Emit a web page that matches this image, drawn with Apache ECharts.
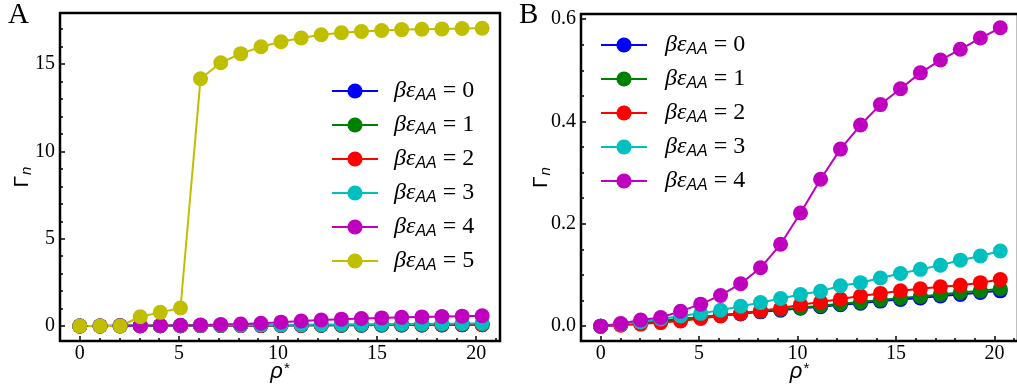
<!DOCTYPE html>
<html>
<head>
<meta charset="utf-8">
<script src="https://cdn.jsdelivr.net/npm/echarts@6/dist/echarts.min.js"></script>
<style>
  html, body { margin: 0; padding: 0; background: #fff; }
  #chart { width: 1017px; height: 390px; }
</style>
</head>
<body>
<div id="chart"></div>
<script>
// rho* values (x), same for every curve
var rho = [0, 1.02, 2.03, 3.05, 4.06, 5.08, 6.09, 7.11, 8.12, 9.14, 10.15,
           11.17, 12.18, 13.2, 14.21, 15.23, 16.24, 17.26, 18.27, 19.29, 20.3];

// Gamma_n for each beta*eps_AA
var g0 = [0, 0.003, 0.007, 0.010, 0.014, 0.017, 0.021, 0.024, 0.028, 0.031, 0.035,
          0.038, 0.042, 0.045, 0.049, 0.052, 0.055, 0.059, 0.062, 0.066, 0.069];
var g1 = [0, 0.0035, 0.007, 0.011, 0.014, 0.018, 0.022, 0.025, 0.029, 0.033, 0.036,
          0.040, 0.044, 0.047, 0.051, 0.055, 0.058, 0.062, 0.066, 0.069, 0.073];
var g2 = [0, 0.002, 0.004, 0.007, 0.010, 0.015, 0.020, 0.025, 0.030, 0.035, 0.042,
          0.047, 0.053, 0.059, 0.064, 0.069, 0.073, 0.077, 0.080, 0.085, 0.091];
var g3 = [0, 0.004, 0.008, 0.014, 0.020, 0.025, 0.031, 0.039, 0.046, 0.054, 0.062,
          0.068, 0.079, 0.085, 0.094, 0.103, 0.111, 0.119, 0.129, 0.137, 0.147];
var g4 = [0, 0.005, 0.012, 0.017, 0.029, 0.043, 0.060, 0.083, 0.114, 0.160, 0.221,
          0.287, 0.346, 0.393, 0.433, 0.464, 0.495, 0.520, 0.541, 0.563, 0.583];
var g5 = [0, 0, 0, 0.53, 0.78, 1.03, 14.16, 15.08, 15.6, 16.0, 16.28,
          16.5, 16.68, 16.8, 16.87, 16.93, 16.98, 17.0, 17.02, 17.04, 17.06];

var eps = ['0', '1', '2', '3', '4', '5'];
var colors = ['#0000ff', '#008000', '#ff0000', '#00bfbf', '#bf00bf', '#bfbf00'];

// tick labels
var xTicks = [0, 5, 10, 15, 20];
var xMinor = [0, 1, 2, 3, 4, 5, 6, 7, 8, 9, 10, 11, 12, 13, 14, 15, 16, 17, 18, 19, 20, 21];
var yTicksA = [0, 5, 10, 15];
var yMinorA = [0, 1, 2, 3, 4, 5, 6, 7, 8, 9, 10, 11, 12, 13, 14, 15, 16, 17];
var yTicksB = [0, 0.2, 0.4, 0.6];
var yMinorB = [0, 0.05, 0.1, 0.15, 0.2, 0.25, 0.3, 0.35, 0.4, 0.45, 0.5, 0.55, 0.6];

var serif = 'Liberation Serif';
var sans = 'Liberation Sans';

function pairs(vals) {
    return vals.map(function (v, i) { return [rho[i], v]; });
}

var names = eps.map(function (e) { return 'βεAA = ' + e; });

var legendRich = {
    g: { fontFamily: serif, fontStyle: 'italic', fontSize: 24, lineHeight: 24, color: '#000' },
    s: { fontFamily: sans, fontStyle: 'italic', fontSize: 16, lineHeight: 16, padding: [10, 0, 0, 0], color: '#000' },
    e: { fontFamily: serif, fontSize: 24, lineHeight: 24, color: '#000' }
};

function legendFmt(name) {
    return '{g|βε}{s|AA}{e| = ' + name.split('= ')[1] + '}';
}

var tickStyle = { color: '#000', width: 1.5 };

function mainX(grid) {
    return {
        type: 'value', gridIndex: grid, min: -1, max: 21.2, position: 'bottom',
        axisLine: { show: false, onZero: false },
        splitLine: { show: false },
        axisTick: { inside: true, length: 5, customValues: xTicks, lineStyle: tickStyle },
        axisLabel: { customValues: xTicks, margin: 3, color: '#000', fontFamily: serif, fontSize: 20 },
        name: '{r|ρ}{a|*}', nameLocation: 'middle', nameGap: 20, nameMoveOverlap: false,
        nameTextStyle: {
            rich: {
                r: { fontFamily: sans, fontStyle: 'italic', fontSize: 22, lineHeight: 22, verticalAlign: 'bottom', color: '#000' },
                a: { fontFamily: sans, fontSize: 15, lineHeight: 15, verticalAlign: 'top', padding: [0, 0, 18, 1], color: '#000' }
            }
        }
    };
}

function minorX(grid) {
    return {
        type: 'value', gridIndex: grid, min: -1, max: 21.2, position: 'bottom', offset: 0,
        axisLine: { show: false, onZero: false }, splitLine: { show: false },
        axisTick: { inside: true, length: 3, customValues: xMinor, lineStyle: tickStyle },
        axisLabel: { show: false }
    };
}

function mainY(grid, min, max, ticks, fmt, gap) {
    return {
        type: 'value', gridIndex: grid, min: min, max: max, position: 'left',
        axisLine: { show: false, onZero: false },
        splitLine: { show: false },
        axisTick: { inside: true, length: 5, customValues: ticks, lineStyle: tickStyle },
        axisLabel: { customValues: ticks, margin: 5, color: '#000', fontFamily: serif, fontSize: 20, formatter: fmt },
        name: '{G|Γ}{n|n}', nameLocation: 'middle', nameGap: gap, nameRotate: 90, nameMoveOverlap: false,
        nameTextStyle: {
            rich: {
                G: { fontFamily: sans, fontSize: 21, lineHeight: 24, color: '#000' },
                n: { fontFamily: sans, fontStyle: 'italic', fontSize: 15, lineHeight: 15, padding: [9, 0, 0, 1], color: '#000' }
            }
        }
    };
}

function minorY(grid, min, max, ticks) {
    return {
        type: 'value', gridIndex: grid, min: min, max: max, position: 'left', offset: 0,
        axisLine: { show: false, onZero: false }, splitLine: { show: false },
        axisTick: { inside: true, length: 3, customValues: ticks, lineStyle: tickStyle },
        axisLabel: { show: false }
    };
}

var dataA = [g0, g1, g2, g3, g4, g5];
var dataB = [g0, g1, g2, g3, g4];

var series = [];
dataA.forEach(function (d, i) {
    series.push({
        name: names[i], type: 'line', xAxisIndex: 0, yAxisIndex: 0,
        data: pairs(d), symbol: 'circle', symbolSize: 15, showSymbol: true,
        lineStyle: { color: colors[i], width: 2 }, itemStyle: { color: colors[i] },
        animation: false
    });
});
dataB.forEach(function (d, i) {
    series.push({
        name: names[i], type: 'line', xAxisIndex: 2, yAxisIndex: 2,
        data: pairs(d), symbol: 'circle', symbolSize: 15, showSymbol: true,
        lineStyle: { color: colors[i], width: 2 }, itemStyle: { color: colors[i] },
        animation: false
    });
});

var chart = echarts.init(document.getElementById('chart'));
chart.setOption({
    backgroundColor: '#fff',
    animation: false,
    grid: [
        { left: 60, top: 13, width: 440, height: 328, show: true, borderColor: '#000', borderWidth: 2.5, outerBoundsMode: 'none' },
        { left: 581, top: 14, width: 437, height: 327, show: true, borderColor: '#000', borderWidth: 2.5, outerBoundsMode: 'none' }
    ],
    xAxis: [mainX(0), minorX(0), mainX(1), minorX(1)],
    yAxis: [
        mainY(0, -0.86, 17.93, yTicksA, null, 26),
        minorY(0, -0.86, 17.93, yMinorA),
        mainY(1, -0.029, 0.61, yTicksB, function (v) { return v.toFixed(1); }, 28),
        minorY(1, -0.029, 0.61, yMinorB)
    ],
    legend: [
        {
            data: names, orient: 'vertical', left: 331, top: 78, padding: 0,
            itemWidth: 46, itemHeight: 19, itemGap: 8, selectedMode: false,
            formatter: legendFmt, textStyle: { padding: [0, 0, 0, 11], rich: legendRich }
        },
        {
            data: names.slice(0, 5), orient: 'vertical', left: 600, top: 32, padding: 0,
            itemWidth: 46, itemHeight: 19, itemGap: 8, selectedMode: false,
            formatter: legendFmt, textStyle: { padding: [0, 0, 0, 13], rich: legendRich }
        }
    ],
    graphic: [
        { type: 'text', left: 8, top: 1, style: { text: 'A', fontFamily: serif, fontSize: 29, fill: '#000' } },
        { type: 'text', left: 519, top: 1, style: { text: 'B', fontFamily: serif, fontSize: 29, fill: '#000' } }
    ],
    series: series
});
</script>
</body>
</html>
